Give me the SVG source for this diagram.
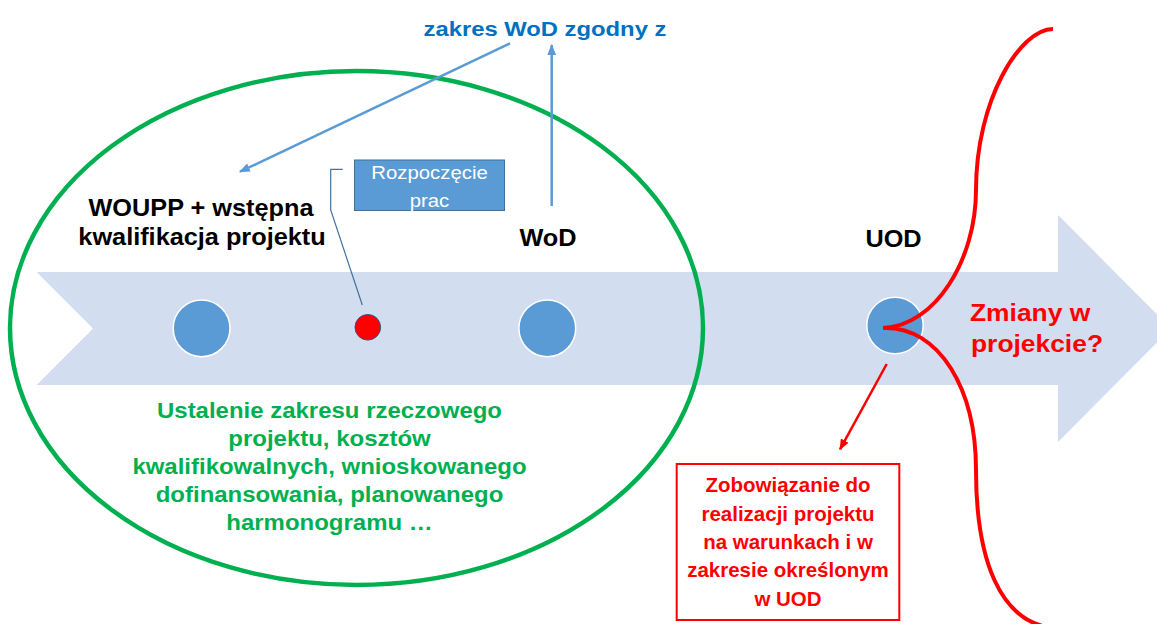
<svg xmlns="http://www.w3.org/2000/svg" width="1157" height="624" viewBox="0 0 1157 624">
<style>
  .bold { font-family: "Liberation Sans", Arial, sans-serif; font-weight: bold; }
  .reg { font-family: "Liberation Sans", Arial, sans-serif; }
  .black { fill: #000000; font-size: 23px; }
  .blueTxt { fill: #0070C0; font-size: 20px; }
  .greenTxt { fill: #00B050; font-size: 22px; }
  .redTxt { fill: #FF0000; font-size: 20.5px; }
  .redBig { fill: #FF0000; font-size: 24px; }
  .whiteTxt { fill: #FFFFFF; font-size: 18.5px; }
  .milestone { fill: #5B9BD5; stroke: #FFFFFF; stroke-width: 1.5; }
  .blueArrow { stroke: #5B9BD5; stroke-width: 2.5; fill: none; }
  .redLine { stroke: #FF0000; fill: none; }
</style>
<defs>
  <marker id="ahBlue" viewBox="0 0 10 8" refX="9" refY="4" markerWidth="11" markerHeight="9" markerUnits="userSpaceOnUse" orient="auto">
    <path d="M0,0 L10,4 L0,8 Z" fill="#5B9BD5"/>
  </marker>
  <marker id="ahRed" viewBox="0 0 10 8" refX="9" refY="4" markerWidth="11" markerHeight="9" markerUnits="userSpaceOnUse" orient="auto">
    <path d="M0,0 L10,4 L0,8 Z" fill="#FF0000"/>
  </marker>
</defs>
<rect width="1157" height="624" fill="#FFFFFF"/>

<g id="timeline-arrow">
  <path d="M36.6,272 L1058,272 L1058,215 L1171,328.5 L1058,442 L1058,385 L36.6,385 L93,328.5 Z" fill="#D2DDEF"/>
</g>

<g id="phase-ellipse">
  <ellipse cx="356.5" cy="328" rx="346.5" ry="257" fill="none" stroke="#00B050" stroke-width="4.5"/>
</g>

<g id="node-woupp">
  <circle class="milestone" cx="201.6" cy="328.3" r="28.4"/>
  <text class="bold black" text-anchor="middle" transform="translate(201 215.5) scale(1.1 1)">WOUPP + wstępna</text>
  <text class="bold black" text-anchor="middle" transform="translate(202 244.5) scale(1.1 1)">kwalifikacja projektu</text>
</g>

<g id="node-start">
  <circle cx="367.8" cy="327.3" r="12.8" fill="#FF0000" stroke="#2F528F" stroke-width="1"/>
</g>

<g id="node-start-label">
  <rect x="354.5" y="160" width="150" height="50.5" fill="#5B9BD5" stroke="#41719C" stroke-width="1"/>
  <text class="reg whiteTxt" text-anchor="middle" transform="translate(429.5 178.5) scale(1.1 1)">Rozpoczęcie</text>
  <text class="reg whiteTxt" text-anchor="middle" transform="translate(429.5 206.5) scale(1.1 1)">prac</text>
</g>

<g id="node-wod">
  <circle class="milestone" cx="547.3" cy="328.3" r="28.4"/>
  <text class="bold black" text-anchor="middle" transform="translate(548 245.5) scale(1.1 1)">WoD</text>
</g>

<g id="node-scope">
  <text class="bold blueTxt" text-anchor="middle" transform="translate(545 36) scale(1.19 1)">zakres WoD zgodny z</text>
</g>

<g id="node-uod">
  <circle class="milestone" cx="895" cy="325.5" r="28.2"/>
  <text class="bold black" text-anchor="middle" transform="translate(893.5 246.5) scale(1.1 1)">UOD</text>
</g>

<g id="node-green-text">
  <text class="bold greenTxt" text-anchor="middle" transform="translate(329.5 417.5) scale(1.09 1)">Ustalenie zakresu rzeczowego</text>
  <text class="bold greenTxt" text-anchor="middle" transform="translate(329.5 445.7) scale(1.09 1)">projektu, kosztów</text>
  <text class="bold greenTxt" text-anchor="middle" transform="translate(329.5 473.9) scale(1.09 1)">kwalifikowalnych, wnioskowanego</text>
  <text class="bold greenTxt" text-anchor="middle" transform="translate(329.5 502.1) scale(1.09 1)">dofinansowania, planowanego</text>
  <text class="bold greenTxt" text-anchor="middle" transform="translate(329.5 530.3) scale(1.09 1)">harmonogramu …</text>
</g>

<g id="node-commitment">
  <rect x="676.7" y="464" width="222.6" height="156" fill="#FFFFFF" stroke="#FF0000" stroke-width="2"/>
  <text class="bold redTxt" text-anchor="middle" x="788" y="491.7">Zobowiązanie do</text>
  <text class="bold redTxt" text-anchor="middle" x="788" y="520.5">realizacji projektu</text>
  <text class="bold redTxt" text-anchor="middle" x="788" y="548.6">na warunkach i w</text>
  <text class="bold redTxt" text-anchor="middle" x="788" y="577.2">zakresie określonym</text>
  <text class="bold redTxt" text-anchor="middle" x="788" y="605.8">w UOD</text>
</g>

<g id="node-changes">
  <text class="bold redBig" transform="translate(970 320.7) scale(1.1 1)">Zmiany w</text>
  <text class="bold redBig" transform="translate(971 351.7) scale(1.1 1)">projekcie?</text>
</g>

<g id="changes-brace">
  <path class="redLine" stroke-width="4" d="M1053,29 C1020,29 976,100 976,190 C976,260 935,326 883,328"/>
  <path class="redLine" stroke-width="4" d="M883,328 C940,326 976,390 976,470 C976,560 1000,622 1053,628"/>
</g>

<g id="connectors">
  <line class="blueArrow" x1="510" y1="43.3" x2="240" y2="171.7" marker-end="url(#ahBlue)"/>
  <line class="blueArrow" x1="551.7" y1="206" x2="551.7" y2="45" marker-end="url(#ahBlue)"/>
  <polyline points="342.7,169.3 330.7,169.3 330.7,210 362.3,305" fill="none" stroke="#41719C" stroke-width="1.2"/>
  <line class="redLine" stroke-width="2.5" x1="886.7" y1="364" x2="840" y2="449.3" marker-end="url(#ahRed)"/>
</g>
</svg>
